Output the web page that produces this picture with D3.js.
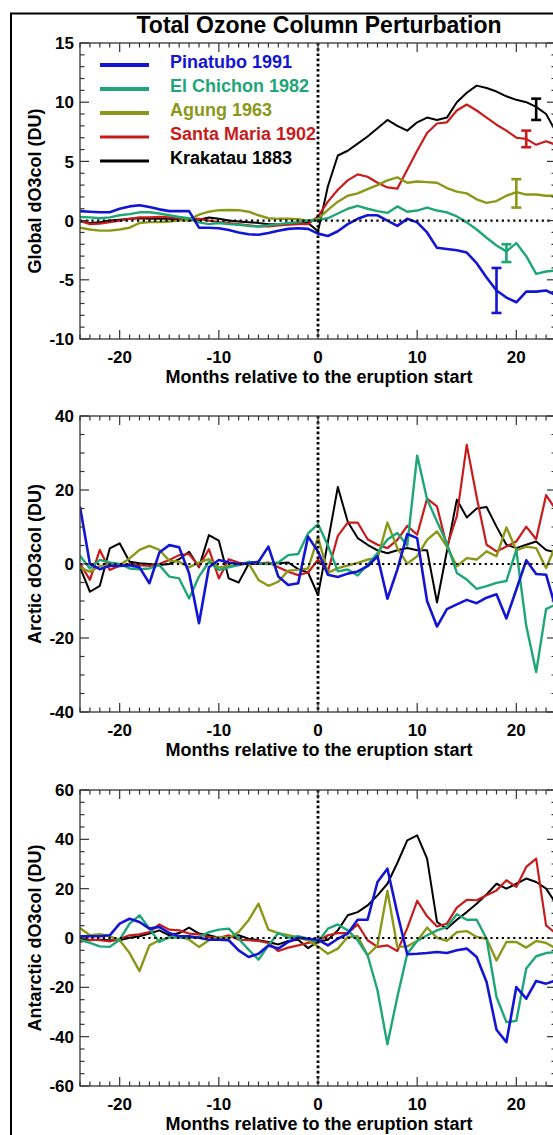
<!DOCTYPE html>
<html><head><meta charset="utf-8">
<script src="https://cdn.jsdelivr.net/npm/d3@7"></script>
<style>body{margin:0;background:#fff}svg{display:block}text{font-family:"Liberation Sans",Arial,sans-serif;font-weight:bold}</style>
</head><body><svg id="c" width="553" height="1135"></svg>
<script>
// ---------- data ----------
const months = [-24,-23,-22,-21,-20,-19,-18,-17,-16,-15,-14,-13,-12,-11,-10,-9,-8,-7,-6,-5,-4,-3,-2,-1,0,1,2,3,4,5,6,7,8,9,10,11,12,13,14,15,16,17,18,19,20,21,22,23,24];
const volcanoes = ["Pinatubo 1991","El Chichon 1982","Agung 1963","Santa Maria 1902","Krakatau 1883"];
const colors = ["#1414d4","#1fa676","#8a9818","#c81c1c","#000000"];

// Global
const globalPinatubo = [0.8,0.75,0.7,0.7,1.0,1.2,1.3,1.15,0.95,0.8,0.8,0.8,-0.6,-0.6,-0.65,-0.8,-1.0,-1.15,-1.2,-1.05,-0.85,-0.7,-0.65,-0.7,-1.1,-1.3,-0.9,-0.3,0.15,0.45,0.45,0.0,-0.45,0.15,-0.15,-1.0,-2.3,-2.4,-2.5,-2.7,-3.6,-4.8,-5.9,-6.5,-6.9,-6.0,-6.0,-5.9,-6.3];
const globalElChichon = [0.3,0.27,0.2,0.27,0.45,0.55,0.7,0.7,0.6,0.45,0.3,0.2,-0.15,-0.3,-0.2,-0.3,-0.35,-0.45,-0.5,-0.4,-0.3,-0.2,-0.13,0.0,0.05,0.2,0.6,1.0,1.25,1.0,0.8,0.65,1.2,0.75,0.85,1.1,0.85,0.7,0.35,-0.15,-0.75,-1.45,-2.1,-2.6,-1.9,-3.0,-4.5,-4.3,-4.2];
const globalAgung = [-0.6,-0.75,-0.85,-0.85,-0.75,-0.6,-0.2,-0.13,-0.13,-0.07,0.0,0.07,0.5,0.75,0.88,0.9,0.88,0.75,0.45,0.2,0.15,0.15,0.12,0.0,0.15,0.9,1.6,2.1,2.3,2.65,3.0,3.4,3.65,3.2,3.3,3.25,3.2,2.75,2.45,2.3,1.8,1.5,1.65,2.1,2.4,2.2,2.2,2.1,2.1];
const globalSantaMaria = [0.0,-0.3,-0.25,-0.13,0.0,0.15,0.27,0.27,0.32,0.27,0.2,0.15,0.15,0.0,-0.13,-0.2,-0.3,-0.4,-0.5,-0.5,-0.4,-0.35,-0.3,-0.3,0.35,1.6,2.6,3.4,3.9,3.7,3.2,2.8,2.7,4.3,5.9,7.4,8.2,8.3,9.3,9.8,9.3,8.7,8.1,7.6,7.0,6.9,6.4,6.7,6.4];
const globalKrakatau = [-0.07,-0.2,-0.13,0.0,0.07,0.15,0.2,0.15,0.15,0.15,0.07,0.0,0.07,0.27,0.15,0.0,-0.07,-0.13,-0.2,-0.3,-0.3,-0.3,-0.2,-0.2,-0.9,2.9,5.5,5.9,6.5,7.1,7.8,8.5,8.0,7.6,8.3,8.7,8.5,8.7,10.0,10.8,11.4,11.2,10.9,10.5,10.2,10.0,9.6,9.0,7.5];

// Arctic
const arcticPinatubo = [15.5,0,-1.4,-0.5,-0.5,-0.3,-0.9,-5.2,3.1,5.1,4.5,-2.5,-16,-0.9,1.1,0.4,0,0.2,0.6,4.7,-3.4,-5.7,-5.2,7.4,3.4,-2.9,-3.5,-2.6,-2.0,-0.6,2.1,-9.4,-1.5,8.1,7.0,-10,-16.9,-12.2,-10.9,-9.7,-10.6,-9.1,-8.2,-14.7,-6.9,1.0,-2.7,-2.9,-12.2];
const arcticElChichon = [2.2,-1.2,1.1,0.4,0,-1.2,-1.4,-1.2,-0.3,-3.4,-3.9,-9.3,-3.4,0.6,-1.6,-0.9,-0.3,0.6,0.2,0,0.4,2.4,2.7,8.3,10.8,5.0,-2.0,-1.5,-3.1,-0.2,3.0,6.6,8.4,5.0,29.3,17.5,11.5,5.6,-2.4,-4.2,-6.7,-6.0,-5.1,-4.6,3.8,-16.7,-29.2,-12.2,-10.9];
const arcticAgung = [-0.9,-2.1,-0.5,-0.3,-0.3,1.5,3.8,4.9,3.8,0.9,0.6,-0.9,0.4,1.3,-0.9,-0.5,-0.3,0.2,-4.3,-5.9,-4.8,-1.8,-1.6,-1.2,7.2,-2.4,-1.1,-0.4,0.3,1.2,1.6,11.2,4.3,0.1,2.1,6.5,8.8,4.7,-0.6,1.6,1.2,3.4,2.1,9.9,3.7,4.7,4.3,-1.1,5.2];
const arcticSantaMaria = [0.2,-4.3,3.8,-1.6,-0.5,0,-0.3,-0.5,0,1.1,2.4,2.7,-0.7,4.0,-3.9,1.3,0.4,0,0.2,0.4,-0.9,-2.1,-3.0,-2.3,1.2,-2.0,7.6,11.2,11.2,6.7,5.2,4.3,6.5,10.3,7.9,17.7,15.6,4.7,12.9,32.2,18.1,5.2,3.4,4.7,6.1,10.1,6.7,18.6,14.6];
const arcticKrakatau = [-0.9,-7.5,-5.9,4.2,5.6,0.6,0.2,0,-0.3,0,1.3,3.3,-0.9,7.8,6.3,-3.9,-5.0,0,0,0.2,0.2,0.4,-1.4,-2.3,-8.4,6.0,20.8,11.4,7.0,5.2,3.7,2.9,3.7,4.3,3.7,3.7,-10.4,3.5,17.4,12.6,15.0,15.4,10.1,5.2,4.3,5.2,6.1,3.8,3.1];

// Antarctic
const antarcticPinatubo = [0.7,0.7,0.7,1.1,5.8,7.8,6.5,3.8,4.5,2.0,0.7,0.7,0.1,-0.7,-0.7,-0.9,-5.0,-7.7,-6.4,-3.0,-4.3,-1.6,0.1,-0.3,-0.7,-3.0,-0.3,1.8,7.4,7.4,22.7,28.1,10.0,-6.6,-6.4,-6.1,-5.7,-6.1,-5.0,-4.3,-7.7,-17.8,-37.2,-42.2,-19.9,-24.6,-17.4,-18.5,-17.2];
const antarcticElChichon = [-0.7,-2.0,-3.4,-3.6,-0.7,5.8,9.2,3.8,-1.6,0.4,0.1,0.1,0.4,2.4,3.4,3.8,-0.3,-4.7,-8.8,-3.0,2.0,0.1,0.7,-0.3,-1.6,3.8,5.5,3.1,-0.9,-7.0,-21.2,-43.1,-23.9,-6.4,-1.2,1.1,3.1,4.5,9.6,7.4,7.4,-0.3,-23.9,-34.1,-33.6,-12.4,-7.4,-6.1,-5.7];
const antarcticAgung = [4.1,1.1,1.5,0.7,-0.9,-6.1,-13.4,-3.0,-0.9,0.1,0.7,-0.7,-3.6,-0.9,0.4,0.1,2.4,7.2,13.9,3.4,2.0,1.1,0.1,-0.9,-3.4,-6.4,-4.3,0.4,0.7,-7.0,-3.0,19.1,-3.6,-3.4,-1.2,4.2,0.1,-1.2,2.4,2.8,0.4,-0.3,-9.1,-1.6,-1.6,-3.9,-1.2,-2.0,-4.3];
const antarcticSantaMaria = [-1.6,-0.7,-0.9,-1.4,-0.3,1.1,1.5,2.4,5.5,3.4,3.1,1.8,1.5,0.4,0.1,1.1,-0.7,-0.9,-1.2,-2.0,-5.3,-3.9,-3.0,-2.0,-1.2,1.1,2.0,2.0,5.5,-0.9,-3.6,-3.0,-5.3,4.0,15.1,8.8,4.7,5.8,12.3,15.5,15.3,17.3,19.3,23.4,20.7,28.8,32.2,5.1,1.8];
const antarcticKrakatau = [-0.3,-0.9,-0.7,-0.9,-0.9,0.1,0.7,1.8,3.1,1.1,2.0,4.2,1.8,1.1,0.1,0.4,1.1,-0.3,-0.9,-1.6,-2.6,-1.2,-0.7,-4.1,-1.5,-0.7,3.1,9.2,10.5,13.2,17.3,22.0,30.4,39.6,41.6,32.2,6.5,3.8,7.4,10.5,13.9,17.7,22.0,20.0,22.0,24.1,22.7,20.0,13.9];

// Global error bars (one per eruption)
const errMonth = [18,19,20,21,22];
const errHigh = [-4.0,-2.0,3.5,7.6,10.3];
const errLow = [-7.8,-3.5,1.1,6.2,8.5];

// Tick labels
const xTicks = [-20,-10,0,10,20];
const globalTicks = [-10,-5,0,5,10,15];
const arcticTicks = [-40,-20,0,20,40];
const antarcticTicks = [-60,-40,-20,0,20,40,60];

const panels = [
  {label:"Global dO3col (DU)", domain:[-10,15], ticks:globalTicks, minor:1, top:43,
   series:[globalPinatubo,globalElChichon,globalAgung,globalSantaMaria,globalKrakatau], err:true},
  {label:"Arctic dO3col (DU)", domain:[-40,40], ticks:arcticTicks, minor:5, top:416,
   series:[arcticPinatubo,arcticElChichon,arcticAgung,arcticSantaMaria,arcticKrakatau]},
  {label:"Antarctic dO3col (DU)", domain:[-60,60], ticks:antarcticTicks, minor:5, top:790,
   series:[antarcticPinatubo,antarcticElChichon,antarcticAgung,antarcticSantaMaria,antarcticKrakatau]}
];

// ---------- drawing ----------
const svg = d3.select("#c");
const W = 553, H = 1135;
svg.append("rect").attr("width",W).attr("height",H).attr("fill","#fff");
svg.append("rect").attr("x",11).attr("y",13.5).attr("width",700).attr("height",1300)
  .attr("fill","none").attr("stroke","#000").attr("stroke-width",2);

svg.append("text").attr("x",319).attr("y",33).attr("text-anchor","middle")
  .attr("font-size",23).text("Total Ozone Column Perturbation");

const left = 80, right = 556, ph = 296;
const x = d3.scaleLinear().domain([-24,24]).range([left,right]);
const lw = [2.6,2.4,2.4,2.2,2.0];
const drawOrder = [4,3,2,1,0];

panels.forEach((p,pi)=>{
  const top = p.top, bottom = top + ph;
  const y = d3.scaleLinear().domain(p.domain).range([bottom, top]);
  const g = svg.append("g");
  const cid = "clip"+pi;
  g.append("clipPath").attr("id",cid).append("rect")
    .attr("x",left).attr("y",top).attr("width",right-left).attr("height",ph);

  const plot = g.append("g").attr("clip-path",`url(#${cid})`);
  const line = d3.line().x((d,i)=>x(months[i])).y(d=>y(d));
  drawOrder.forEach(k=>{
    plot.append("path").datum(p.series[k]).attr("d",line)
      .attr("fill","none").attr("stroke",colors[k]).attr("stroke-width",lw[k])
      .attr("stroke-linejoin","round");
  });
  // dotted reference lines
  plot.append("line").attr("x1",left).attr("x2",right).attr("y1",y(0)).attr("y2",y(0))
    .attr("stroke","#000").attr("stroke-width",2.2).attr("stroke-dasharray","2.2,3.5");
  g.append("line").attr("x1",x(0)).attr("x2",x(0)).attr("y1",top).attr("y2",bottom)
    .attr("stroke","#000").attr("stroke-width",2.8).attr("stroke-dasharray","2.6,2.6");

  if (p.err) {
    errMonth.forEach((m,k)=>{
      const eg = plot.append("g").attr("stroke",colors[k]).attr("stroke-width",2.6);
      const xx = x(m);
      eg.append("line").attr("x1",xx).attr("x2",xx).attr("y1",y(errHigh[k])).attr("y2",y(errLow[k]));
      eg.append("line").attr("x1",xx-5).attr("x2",xx+5).attr("y1",y(errHigh[k])).attr("y2",y(errHigh[k]));
      eg.append("line").attr("x1",xx-5).attr("x2",xx+5).attr("y1",y(errLow[k])).attr("y2",y(errLow[k]));
    });
  }

  // frame
  g.append("rect").attr("x",left).attr("y",top).attr("width",right-left).attr("height",ph)
    .attr("fill","none").attr("stroke","#333").attr("stroke-width",1.3);

  // ticks
  const tk = g.append("g").attr("stroke","#333").attr("stroke-width",1.2);
  const xMinor = d3.range(-24,25,1);
  xMinor.forEach(m=>{
    const L = (m%10===0)?9:4.5;
    tk.append("line").attr("x1",x(m)).attr("x2",x(m)).attr("y1",bottom).attr("y2",bottom-L);
    tk.append("line").attr("x1",x(m)).attr("x2",x(m)).attr("y1",top).attr("y2",top+L);
  });
  const yMinor = d3.range(p.domain[0], p.domain[1]+0.001, p.minor);
  yMinor.forEach(v=>{
    const L = p.ticks.includes(v)?9:4.5;
    tk.append("line").attr("x1",left).attr("x2",left+L).attr("y1",y(v)).attr("y2",y(v));
    tk.append("line").attr("x1",right).attr("x2",right-L).attr("y1",y(v)).attr("y2",y(v));
  });

  // tick labels
  p.ticks.forEach(v=>{
    g.append("text").attr("x",left-6).attr("y",y(v)).attr("dy","0.36em")
      .attr("text-anchor","end").attr("font-size",17).text(String(v));
  });
  xTicks.forEach(v=>{
    g.append("text").attr("x",x(v)).attr("y",bottom+24).attr("text-anchor","middle")
      .attr("font-size",17).text(String(v));
  });
  g.append("text").attr("x",319).attr("y",bottom+44).attr("text-anchor","middle")
    .attr("font-size",18).text("Months relative to the eruption start");
  g.append("text").attr("transform",`translate(41,${(top+bottom)/2}) rotate(-90)`)
    .attr("text-anchor","middle").attr("font-size",18).text(p.label);
});

// legend
const lg = svg.append("g");
volcanoes.forEach((name,k)=>{
  const yy = 65 + k*24;
  lg.append("line").attr("x1",100).attr("x2",149).attr("y1",yy).attr("y2",yy)
    .attr("stroke",colors[k]).attr("stroke-width",k<3?4:3.2);
  lg.append("text").attr("x",170).attr("y",yy+2.5).attr("font-size",18)
    .attr("fill",colors[k]).text(name);
});
</script></body></html>
